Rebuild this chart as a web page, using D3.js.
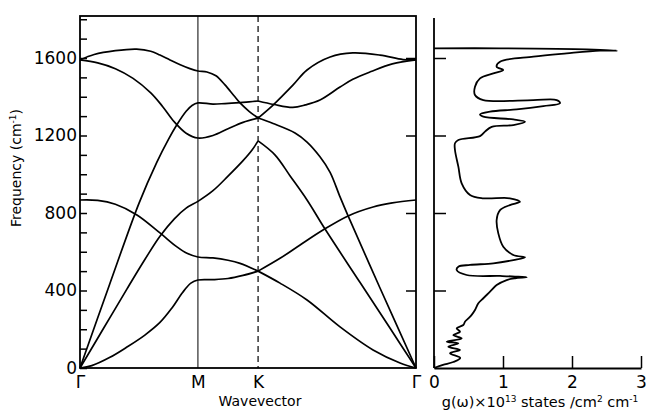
<!DOCTYPE html>
<html>
<head>
<meta charset="utf-8">
<script src="https://cdn.jsdelivr.net/npm/d3@7"></script>
<style>
  body { margin: 0; background: #fff; }
  svg { display: block; font-family: "DejaVu Sans", sans-serif; }
</style>
</head>
<body>
<svg id="chart" width="646" height="412"></svg>
<script>
// symmetry points along the wavevector path
const kTicks = [0, 1, 2, 3];
const kLabels = ['\u0393', 'M', 'K', '\u0393'];
const freqTicks = [0, 400, 800, 1200, 1600];
const dosTicks = [0, 1, 2, 3];

// phonon branches, [k, frequency cm-1], k: 0=Γ 1=M 2=K 3=Γ
const zaBranch = [[0, 0], [0.1, 12], [0.254, 55], [0.398, 108], [0.55, 170], [0.678, 235], [0.78, 310], [0.87, 390],
  [0.94, 438], [1, 454],
  [1.25, 456], [1.5, 462], [1.75, 478], [2, 500],
  [2.139, 438], [2.31, 351], [2.519, 212], [2.728, 93], [2.899, 26], [3, 0]];
const zoBranch = [[0, 867], [0.15, 865], [0.3, 845], [0.483, 790], [0.678, 697], [0.822, 625], [0.907, 592], [1, 573],
  [1.25, 568], [1.5, 556], [1.7, 540], [2, 500],
  [2.139, 566], [2.266, 635], [2.411, 712], [2.57, 785], [2.728, 831], [2.85, 852], [3, 867]];
const taBranch = [[0, 0], [0.2, 205], [0.4, 410], [0.55, 560], [0.678, 680], [0.8, 770], [0.9, 825], [1, 860],
  [1.25, 915], [1.5, 990], [1.75, 1070], [1.9, 1125], [2, 1172],
  [2.108, 1099], [2.203, 991], [2.31, 867], [2.424, 717], [2.646, 441], [2.835, 206], [3, 0]];
const laBranch = [[0, 0], [0.25, 430], [0.5, 850], [0.65, 1060], [0.75, 1180], [0.82, 1254], [0.9, 1325],
  [0.95, 1355], [1, 1368],
  [1.25, 1362], [1.45, 1365], [1.7, 1370], [1.85, 1374], [2, 1378],
  [2.1, 1360], [2.22, 1345], [2.3, 1358], [2.392, 1383], [2.519, 1450], [2.6, 1490], [2.715, 1530], [2.85, 1570], [3, 1590]];
const toBranch = [[0, 1590], [0.15, 1575], [0.3, 1545], [0.45, 1495], [0.6, 1420], [0.7, 1350], [0.8, 1270],
  [0.9, 1212], [1, 1187],
  [1.25, 1200], [1.5, 1235], [1.75, 1268], [2, 1290],
  [2.095, 1262], [2.234, 1213], [2.31, 1166], [2.392, 1090], [2.456, 1010], [2.519, 883], [2.57, 785], [2.772, 413], [3, 0]];
const loBranch = [[0, 1590], [0.12, 1618], [0.3, 1638], [0.48, 1646], [0.6, 1635], [0.678, 1615], [0.763, 1590],
  [0.85, 1565], [0.932, 1545], [1, 1533],
  [1.15, 1528], [1.3, 1508], [1.45, 1461], [1.6, 1405], [1.7, 1368], [1.85, 1325], [2, 1290],
  [2.095, 1357], [2.222, 1461], [2.31, 1538], [2.456, 1605], [2.6, 1626], [2.772, 1615], [2.918, 1592], [3, 1590]];
const branches = [zaBranch, zoBranch, taBranch, laBranch, toBranch, loBranch];

// density of states, [g (1e13 states/cm2 cm-1), frequency cm-1]
const dosPoints = [[0, 0], [0.13, 16], [0.28, 31], [0.38, 52], [0.232, 76], [0.377, 93], [0.208, 110], [0.353, 127],
  [0.184, 136], [0.401, 153], [0.28, 170], [0.377, 187], [0.329, 205], [0.425, 222], [0.449, 239], [0.498, 256],
  [0.546, 274], [0.594, 299], [0.643, 334], [0.715, 360], [0.812, 394], [0.908, 428], [1.053, 454], [1.174, 463],
  [1.343, 468], [1.174, 472], [0.957, 475], [0.473, 480], [0.329, 506], [0.353, 523], [0.522, 532], [0.86, 540],
  [1.15, 557], [1.319, 571], [1.15, 583], [1.004, 626], [0.932, 695], [0.908, 764], [0.957, 815], [1.1, 841],
  [1.246, 858], [1.1, 876], [0.715, 876], [0.522, 893], [0.401, 953], [0.353, 1039], [0.304, 1125], [0.304, 1160],
  [0.353, 1177], [0.667, 1197], [0.739, 1220], [0.836, 1245], [1.15, 1254], [1.319, 1271], [1.15, 1283],
  [0.715, 1297], [0.667, 1309], [0.812, 1323], [1.198, 1335], [1.585, 1352], [1.826, 1366], [1.778, 1383],
  [1.44, 1383], [0.715, 1383], [0.594, 1409], [0.594, 1452], [0.667, 1495], [0.86, 1521], [1.004, 1538],
  [0.908, 1555], [0.957, 1581], [1.44, 1607], [1.923, 1624], [2.406, 1638], [2.65, 1638], [2.213, 1645],
  [0.957, 1650], [0, 1650]];

const svg = d3.select('#chart');

// layout
const panel = { left: 80, right: 416, top: 16, bottom: 368 };
const dosPanel = { left: 434, right: 641, top: 18 };
const kFrac = [0, 0.351, 0.53, 1];

const y = d3.scaleLinear().domain([0, 1600]).range([panel.bottom, 58]);
const x = d3.scaleLinear()
  .domain(kTicks)
  .range(kFrac.map(f => panel.left + f * (panel.right - panel.left)));
const g = d3.scaleLinear().domain([0, 3]).range([dosPanel.left, dosPanel.right]);

const fontSize = 17;
const font = '"DejaVu Sans", sans-serif';

// frame of dispersion panel
svg.append('rect')
  .attr('x', panel.left).attr('y', panel.top)
  .attr('width', panel.right - panel.left).attr('height', panel.bottom - panel.top)
  .attr('fill', 'none').attr('stroke', '#000').attr('stroke-width', 1.8);

// minor ticks every 100 on left axis
svg.append('g')
  .attr('transform', `translate(${panel.left},0)`)
  .call(d3.axisLeft(y).tickValues(d3.range(0, 1801, 100)).tickFormat('').tickSizeInner(-7).tickSizeOuter(0))
  .call(a => a.select('.domain').remove())
  .call(a => a.selectAll('line').attr('stroke-width', 1.5));

// labels on left axis
svg.append('g')
  .attr('transform', `translate(${panel.left},0)`)
  .call(d3.axisLeft(y).tickValues(freqTicks).tickFormat(d3.format('d')).tickSize(0).tickPadding(3))
  .call(a => a.select('.domain').remove())
  .call(a => a.selectAll('text').attr('font-size', fontSize).attr('font-family', font));

// right-side ticks of dispersion panel
svg.append('g')
  .attr('transform', `translate(${panel.right},0)`)
  .call(d3.axisRight(y).tickValues(freqTicks.slice(1)).tickFormat('').tickSizeInner(-10).tickSizeOuter(0))
  .call(a => a.select('.domain').remove())
  .call(a => a.selectAll('line').attr('stroke-width', 1.5));

// symmetry point lines
svg.append('line')
  .attr('x1', x(1)).attr('x2', x(1)).attr('y1', panel.top).attr('y2', panel.bottom)
  .attr('stroke', '#000').attr('stroke-width', 1);
svg.append('line')
  .attr('x1', x(2)).attr('x2', x(2)).attr('y1', panel.top).attr('y2', panel.bottom)
  .attr('stroke', '#000').attr('stroke-width', 1.2).attr('stroke-dasharray', '6,4');

// symmetry labels
svg.append('g')
  .attr('transform', `translate(0,${panel.bottom})`)
  .call(d3.axisBottom(x).tickValues(kTicks).tickFormat((d, i) => kLabels[i]).tickSize(0).tickPadding(8))
  .call(a => a.select('.domain').remove())
  .call(a => a.selectAll('text').attr('font-size', fontSize).attr('font-family', font));

// branches, split at K where they meet with a cusp
const branchLine = d3.line()
  .x(d => x(d[0]))
  .y(d => y(d[1]))
  .curve(d3.curveCatmullRom.alpha(0.5));

const branchGroup = svg.append('g').attr('class', 'branches');
branches.forEach(b => {
  const parts = [b.filter(d => d[0] <= 2), b.filter(d => d[0] >= 2)];
  parts.forEach(p => {
    branchGroup.append('path')
      .attr('d', branchLine(p))
      .attr('fill', 'none')
      .attr('stroke', '#000')
      .attr('stroke-width', 1.7);
  });
});

// axis titles
svg.append('text')
  .attr('transform', 'translate(21,168) rotate(-90)')
  .attr('text-anchor', 'middle')
  .attr('font-size', 14)
  .call(t => {
    t.append('tspan').text('Frequency (cm');
    t.append('tspan').attr('font-size', 9).attr('dy', -5).text('-1');
    t.append('tspan').attr('dy', 5).text(')');
  });

svg.append('text')
  .attr('x', 260).attr('y', 406)
  .attr('text-anchor', 'middle')
  .attr('font-size', 14)
  .text('Wavevector');

// density of states panel
svg.append('line')
  .attr('x1', dosPanel.left).attr('x2', dosPanel.left)
  .attr('y1', dosPanel.top).attr('y2', panel.bottom)
  .attr('stroke', '#000').attr('stroke-width', 1.8);

svg.append('g')
  .attr('transform', `translate(${dosPanel.left},0)`)
  .call(d3.axisRight(y).tickValues(freqTicks.slice(1)).tickFormat('').tickSizeInner(12).tickSizeOuter(0))
  .call(a => a.select('.domain').remove())
  .call(a => a.selectAll('line').attr('stroke-width', 1.5));

svg.append('g')
  .attr('transform', `translate(0,${panel.bottom})`)
  .call(d3.axisBottom(g).tickValues(dosTicks).tickFormat(d3.format('d')).tickSizeInner(-12).tickSizeOuter(0).tickPadding(8))
  .call(a => a.select('.domain').attr('stroke-width', 1.8))
  .call(a => a.selectAll('line').attr('stroke-width', 1.5))
  .call(a => a.selectAll('text').attr('font-size', fontSize).attr('font-family', font));

svg.append('path')
  .datum(dosPoints)
  .attr('d', d3.line().x(d => g(d[0])).y(d => y(d[1])).curve(d3.curveCatmullRom.alpha(0.5)))
  .attr('fill', 'none')
  .attr('stroke', '#000')
  .attr('stroke-width', 1.8)
  .attr('stroke-linejoin', 'round');

svg.append('text')
  .attr('x', 540).attr('y', 407)
  .attr('text-anchor', 'middle')
  .attr('font-size', 14.5)
  .call(t => {
    t.append('tspan').text('g(\u03c9)\u00d710');
    t.append('tspan').attr('font-size', 9).attr('dy', -5).text('13');
    t.append('tspan').attr('dy', 5).text(' states /cm');
    t.append('tspan').attr('font-size', 9).attr('dy', -5).text('2');
    t.append('tspan').attr('dy', 5).text(' cm');
    t.append('tspan').attr('font-size', 9).attr('dy', -5).text('-1');
  });
</script>
</body>
</html>
